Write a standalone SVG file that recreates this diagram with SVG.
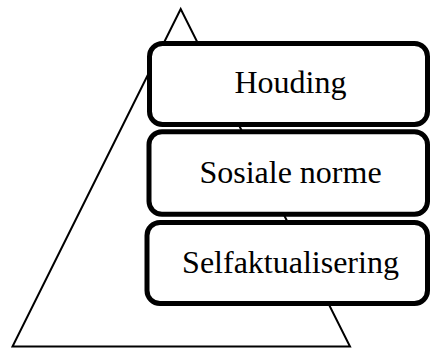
<svg xmlns="http://www.w3.org/2000/svg" width="431" height="349" viewBox="0 0 431 349">
<style>
.box{fill:#fff;stroke:#000;stroke-width:5}
.lbl{font-family:"Liberation Serif","Times New Roman",serif;font-size:32px;fill:#000;text-anchor:middle}
</style>
<rect width="431" height="349" fill="#fff"/>
<g id="connectors">
<polygon id="triangle" points="180.7,9 12.5,346.5 350,346.5" fill="none" stroke="#000" stroke-width="2"/>
</g>
<g id="node-houding">
<rect class="box" x="149.5" y="43.5" width="278" height="81" rx="13"/>
<text class="lbl" x="290.5" y="93">Houding</text>
</g>
<g id="node-sosiale">
<rect class="box" x="149" y="131.7" width="278.5" height="82.6" rx="13"/>
<text class="lbl" x="290.5" y="183">Sosiale norme</text>
</g>
<g id="node-self">
<rect class="box" x="147" y="222.5" width="280.5" height="81" rx="13"/>
<text class="lbl" x="290.5" y="273">Selfaktualisering</text>
</g>
</svg>
